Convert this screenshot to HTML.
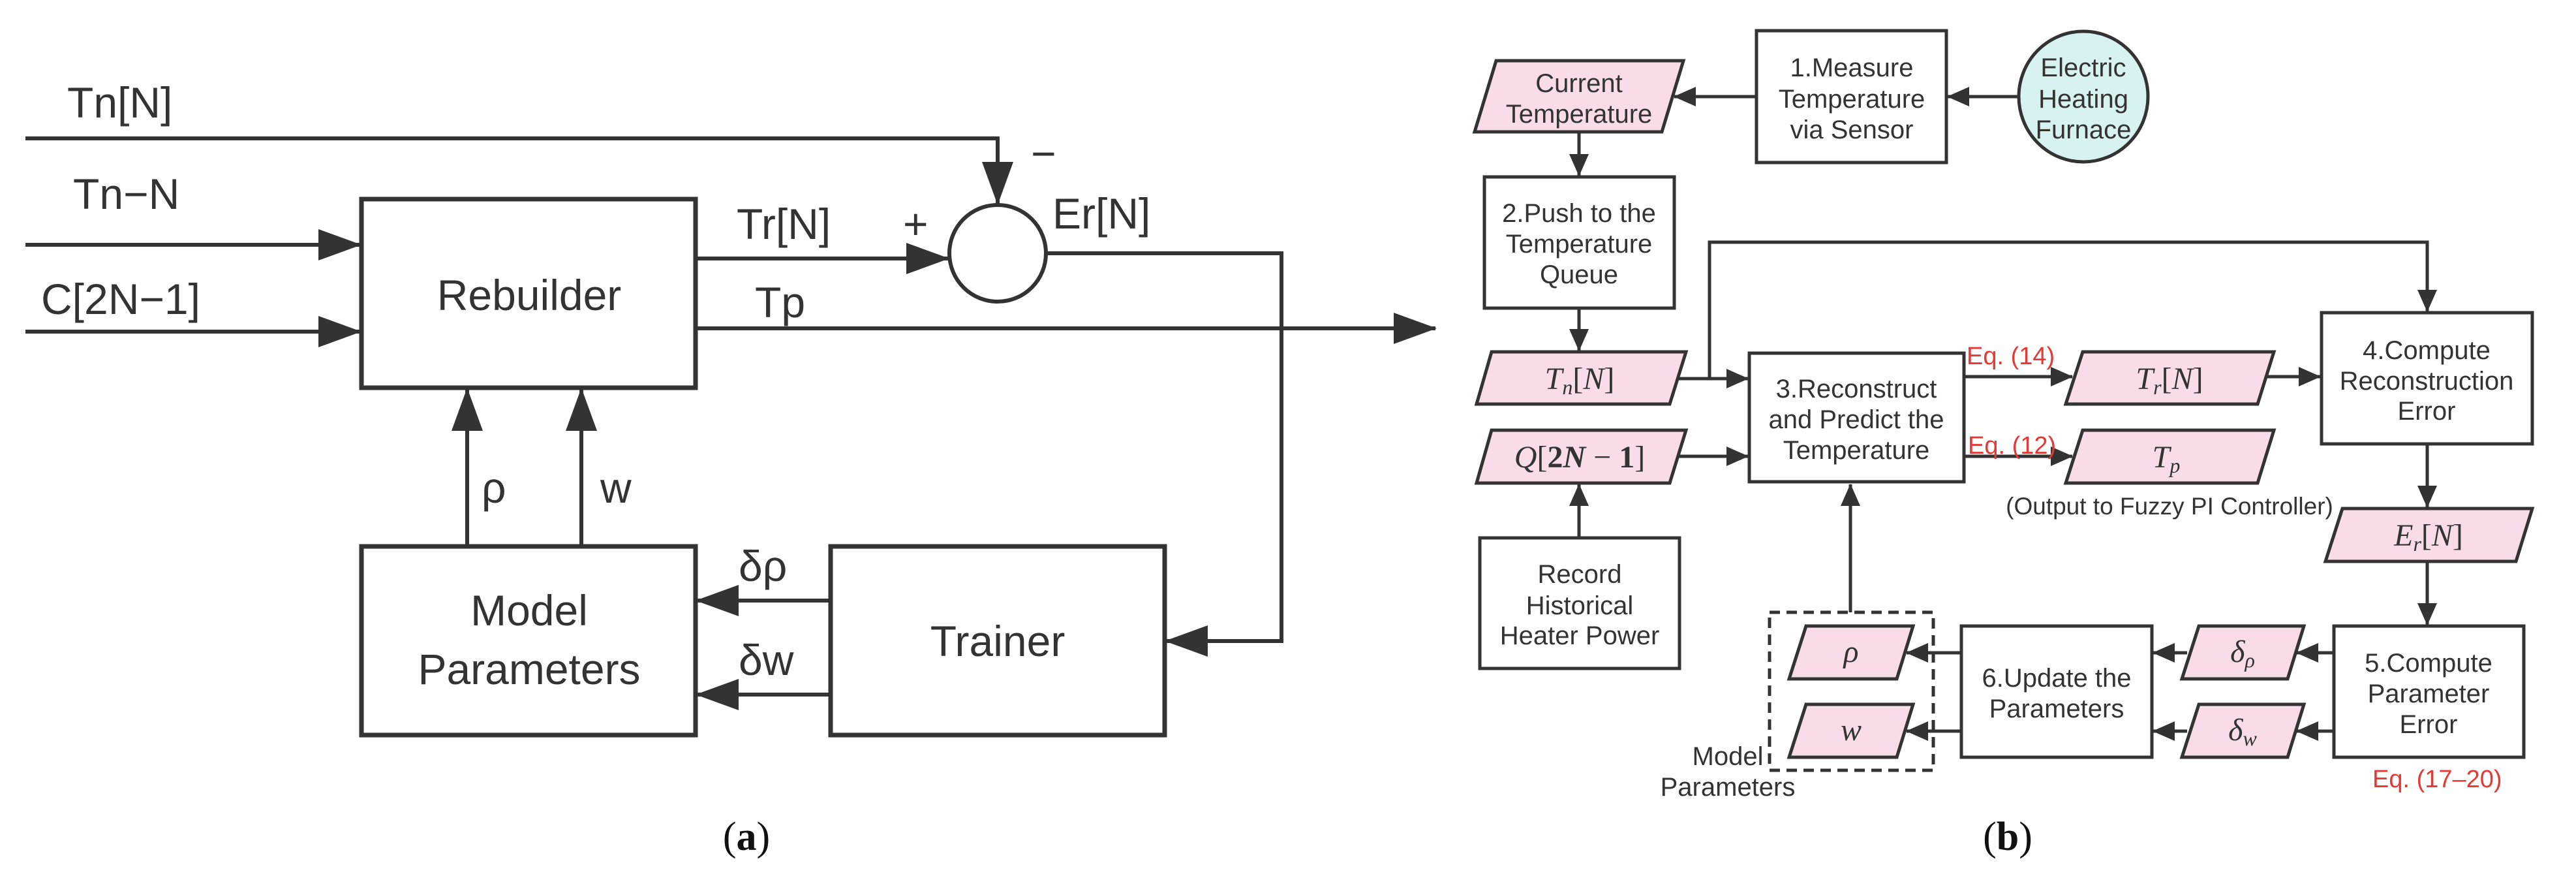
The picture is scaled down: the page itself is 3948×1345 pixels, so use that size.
<!DOCTYPE html>
<html><head><meta charset="utf-8"><style>
html,body{margin:0;padding:0;background:#fff;}
svg{display:block;}
.t{font-family:"Liberation Sans",sans-serif;fill:#333;}
.m{font-family:"Liberation Serif",serif;font-style:italic;fill:#333;}
.r{font-family:"Liberation Sans",sans-serif;fill:#e53935;font-size:38px;}
</style></head><body>
<svg width="3948" height="1345" viewBox="0 0 3948 1345" xmlns="http://www.w3.org/2000/svg">
<defs>
<marker id="A" markerUnits="userSpaceOnUse" markerWidth="66" markerHeight="48" refX="64" refY="24" orient="auto"><path d="M0,0 L66,24 L0,48 Z" fill="#333"/></marker>
<marker id="B" markerUnits="userSpaceOnUse" markerWidth="34" markerHeight="30" refX="33" refY="15" orient="auto"><path d="M0,0 L34,15 L0,30 Z" fill="#333"/></marker>
</defs>
<g stroke="#333" stroke-width="6" fill="none">
<rect x="554" y="305" width="512" height="289" fill="#fff" stroke-width="7"/>
<rect x="554" y="837" width="512" height="289" fill="#fff" stroke-width="7"/>
<rect x="1273" y="837" width="512" height="289" fill="#fff" stroke-width="7"/>
<circle cx="1529" cy="388" r="74" fill="#fff"/>
<polyline points="39,212 1529,212 1529,312" marker-end="url(#A)"/>
<line x1="39" y1="375" x2="552" y2="375" marker-end="url(#A)"/>
<line x1="39" y1="508" x2="552" y2="508" marker-end="url(#A)"/>
<line x1="1066" y1="396" x2="1453" y2="396" marker-end="url(#A)"/>
<line x1="1066" y1="503" x2="2200" y2="503" marker-end="url(#A)"/>
<polyline points="1603,388 1964,388 1964,982 1787,982" marker-end="url(#A)"/>
<line x1="716" y1="834" x2="716" y2="596" marker-end="url(#A)"/>
<line x1="891" y1="834" x2="891" y2="596" marker-end="url(#A)"/>
<line x1="1273" y1="920" x2="1068" y2="920" marker-end="url(#A)"/>
<line x1="1273" y1="1064" x2="1068" y2="1064" marker-end="url(#A)"/>
</g>
<g class="t" font-size="66">
<text x="103" y="180">Tn[N]</text>
<text x="112" y="320">Tn−N</text>
<text x="63" y="481">C[2N−1]</text>
<text x="811" y="475" text-anchor="middle">Rebuilder</text>
<text x="1129" y="366">Tr[N]</text>
<text x="1384" y="366">+</text>
<text x="1580" y="258">−</text>
<text x="1613" y="350">Er[N]</text>
<text x="1157" y="486">Tp</text>
<text x="738" y="770">ρ</text>
<text x="920" y="770">w</text>
<text x="1132" y="890">δρ</text>
<text x="1132" y="1034">δw</text>
<text x="811" y="958" text-anchor="middle">Model</text>
<text x="811" y="1048" text-anchor="middle">Parameters</text>
<text x="1529" y="1005" text-anchor="middle">Trainer</text>
</g>
<text x="1144" y="1302" text-anchor="middle" font-family="Liberation Serif,serif" font-size="62" fill="#111">(<tspan font-weight="bold">a</tspan>)</text>

<g stroke="#333" stroke-width="5" fill="none">
<ellipse cx="3193" cy="148" rx="99" ry="100" fill="#d8f2f2"/>
<rect x="2692" y="47" width="291" height="202" fill="#fff"/>
<rect x="2275" y="271" width="291" height="201" fill="#fff"/>
<rect x="2268" y="824" width="306" height="200" fill="#fff"/>
<rect x="2681" y="541" width="329" height="197" fill="#fff"/>
<rect x="3558" y="479" width="323" height="201" fill="#fff"/>
<rect x="3577" y="959" width="291" height="201" fill="#fff"/>
<rect x="3006" y="959" width="292" height="201" fill="#fff"/>
<g fill="#f8dcea">
<polygon points="2293,93 2580,93 2547,202 2260,202"/>
<polygon points="2286,539 2584,539 2559,619 2263,619"/>
<polygon points="2286,659 2584,659 2559,740 2263,740"/>
<polygon points="3192,539 3485,539 3460,619 3166,619"/>
<polygon points="3192,659 3485,659 3460,740 3166,740"/>
<polygon points="3590,779 3881,779 3856,860 3564,860"/>
<polygon points="3370,959 3531,959 3506,1040 3344,1040"/>
<polygon points="3370,1079 3531,1079 3506,1160 3344,1160"/>
<polygon points="2768,959 2932,959 2907,1040 2742,1040"/>
<polygon points="2768,1079 2932,1079 2907,1160 2742,1160"/>
</g>
<rect x="2712" y="938" width="251" height="242" stroke-dasharray="16,10"/>
<line x1="3094" y1="148" x2="2985" y2="148" marker-end="url(#B)"/>
<line x1="2692" y1="148" x2="2566" y2="148" marker-end="url(#B)"/>
<line x1="2420" y1="202" x2="2420" y2="269" marker-end="url(#B)"/>
<line x1="2420" y1="472" x2="2420" y2="537" marker-end="url(#B)"/>
<line x1="2420" y1="824" x2="2420" y2="742" marker-end="url(#B)"/>
<line x1="2570" y1="580" x2="2679" y2="580" marker-end="url(#B)"/>
<line x1="2570" y1="699" x2="2679" y2="699" marker-end="url(#B)"/>
<polyline points="2620,580 2620,371 3720,371 3720,477" marker-end="url(#B)"/>
<line x1="3010" y1="577" x2="3176" y2="577" marker-end="url(#B)"/>
<line x1="3010" y1="699" x2="3176" y2="699" marker-end="url(#B)"/>
<line x1="3474" y1="577" x2="3556" y2="577" marker-end="url(#B)"/>
<line x1="3720" y1="680" x2="3720" y2="777" marker-end="url(#B)"/>
<line x1="3720" y1="860" x2="3720" y2="957" marker-end="url(#B)"/>
<line x1="3577" y1="1000" x2="3520" y2="1000" marker-end="url(#B)"/>
<line x1="3577" y1="1120" x2="3520" y2="1120" marker-end="url(#B)"/>
<line x1="3352" y1="1000" x2="3300" y2="1000" marker-end="url(#B)"/>
<line x1="3352" y1="1120" x2="3300" y2="1120" marker-end="url(#B)"/>
<line x1="3006" y1="1000" x2="2922" y2="1000" marker-end="url(#B)"/>
<line x1="3006" y1="1120" x2="2922" y2="1120" marker-end="url(#B)"/>
<line x1="2836" y1="938" x2="2836" y2="742" marker-end="url(#B)"/>
</g>
<g class="t" font-size="40" text-anchor="middle">
<text x="2420" y="141">Current</text>
<text x="2420" y="188">Temperature</text>
<text x="2838" y="117">1.Measure</text>
<text x="2838" y="165">Temperature</text>
<text x="2838" y="212">via Sensor</text>
<text x="3193" y="117">Electric</text>
<text x="3193" y="165">Heating</text>
<text x="3193" y="212">Furnace</text>
<text x="2420" y="340">2.Push to the</text>
<text x="2420" y="387">Temperature</text>
<text x="2420" y="434">Queue</text>
<text x="2421" y="893">Record</text>
<text x="2421" y="941">Historical</text>
<text x="2421" y="987">Heater Power</text>
<text x="2845" y="609">3.Reconstruct</text>
<text x="2845" y="656">and Predict the</text>
<text x="2845" y="703">Temperature</text>
<text x="3719" y="550">4.Compute</text>
<text x="3719" y="597">Reconstruction</text>
<text x="3719" y="643">Error</text>
<text x="3722" y="1029">5.Compute</text>
<text x="3722" y="1076">Parameter</text>
<text x="3722" y="1123">Error</text>
<text x="3152" y="1052">6.Update the</text>
<text x="3152" y="1099">Parameters</text>
<text x="3325" y="788" font-size="37">(Output to Fuzzy PI Controller)</text>
<text x="2648" y="1172">Model</text>
<text x="2648" y="1219">Parameters</text>
</g>
<g class="m" font-size="48" text-anchor="middle">
<text x="2421" y="596">T<tspan font-size="32" dy="8">n</tspan><tspan dy="-8" font-style="normal">[</tspan>N<tspan font-style="normal">]</tspan></text>
<text x="2421" y="716">Q<tspan font-style="normal">[</tspan><tspan font-style="normal" font-weight="bold">2</tspan><tspan font-weight="bold">N</tspan><tspan font-style="normal"> − </tspan><tspan font-style="normal" font-weight="bold">1</tspan><tspan font-style="normal">]</tspan></text>
<text x="3325" y="596">T<tspan font-size="32" dy="8">r</tspan><tspan dy="-8" font-style="normal">[</tspan>N<tspan font-style="normal">]</tspan></text>
<text x="3320" y="716">T<tspan font-size="32" dy="8">p</tspan></text>
<text x="3722" y="836">E<tspan font-size="32" dy="8">r</tspan><tspan dy="-8" font-style="normal">[</tspan>N<tspan font-style="normal">]</tspan></text>
<text x="3437" y="1014">δ<tspan font-size="32" dy="8">ρ</tspan></text>
<text x="3437" y="1134">δ<tspan font-size="32" dy="8">w</tspan></text>
<text x="2837" y="1014">ρ</text>
<text x="2837" y="1134">w</text>
</g>
<text class="r" x="3014" y="558">Eq. (14)</text>
<text class="r" x="3016" y="695">Eq. (12)</text>
<text class="r" x="3636" y="1206">Eq. (17–20)</text>
<text x="3077" y="1302" text-anchor="middle" font-family="Liberation Serif,serif" font-size="62" fill="#111">(<tspan font-weight="bold">b</tspan>)</text>
</svg>
</body></html>
